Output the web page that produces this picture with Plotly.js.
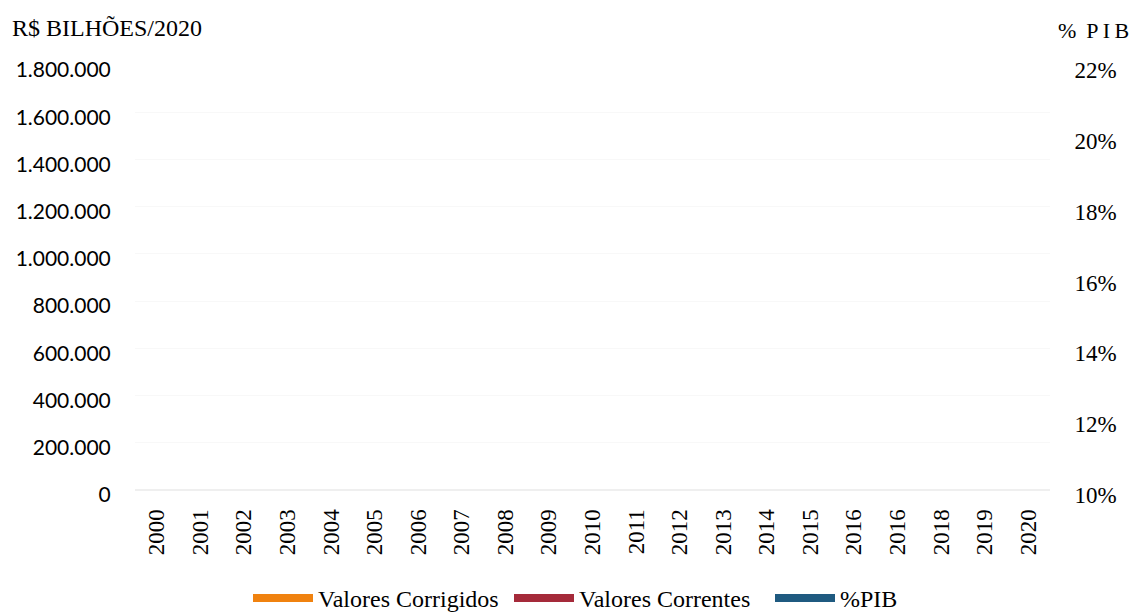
<!DOCTYPE html>
<html>
<head>
<meta charset="utf-8">
<script src="https://cdn.plot.ly/plotly-3.0.1.min.js"></script>
<style>
  html, body { margin: 0; padding: 0; background: #fff; }
  #chart { width: 1133px; height: 612px; }
</style>
</head>
<body>
<div id="chart"></div>
<script>
// Year labels as printed on the axis (the series has two "2016" entries)
const years = ["2000","2001","2002","2003","2004","2005","2006","2007","2008","2009",
               "2010","2011","2012","2013","2014","2015","2016","2016","2018","2019","2020"];

// Series values: no points are plotted for any year
const valoresCorrigidos = [null,null,null,null,null,null,null,null,null,null,
                           null,null,null,null,null,null,null,null,null,null,null];
const valoresCorrentes  = [null,null,null,null,null,null,null,null,null,null,
                           null,null,null,null,null,null,null,null,null,null,null];
const pctPIB            = [null,null,null,null,null,null,null,null,null,null,
                           null,null,null,null,null,null,null,null,null,null,null];

// Series names and colours
const seriesNames  = ["Valores Corrigidos", "Valores Correntes", "%PIB"];
const seriesColors = ["#F0820F", "#A52A3A", "#1F5A80"];

// Axis ticks
const leftTicks  = [0, 200000, 400000, 600000, 800000, 1000000, 1200000, 1400000, 1600000, 1800000];
const rightTicks = [0.10, 0.12, 0.14, 0.16, 0.18, 0.20, 0.22];

const idx = years.map((_, i) => i);
const serif = "Liberation Serif";

const traces = [
  { x: idx, y: valoresCorrigidos, name: seriesNames[0], type: "scatter", mode: "lines",
    line: { color: seriesColors[0], width: 8 }, yaxis: "y" },
  { x: idx, y: valoresCorrentes, name: seriesNames[1], type: "scatter", mode: "lines",
    line: { color: seriesColors[1], width: 8 }, yaxis: "y" },
  { x: idx, y: pctPIB, name: seriesNames[2], type: "scatter", mode: "lines",
    line: { color: seriesColors[2], width: 8 }, yaxis: "y2" }
];

const layout = {
  width: 1133, height: 612,
  paper_bgcolor: "#fff", plot_bgcolor: "#fff",
  font: { family: serif, size: 24, color: "#000" },
  margin: { l: 135, r: 83, t: 65, b: 122, autoexpand: false },
  separators: ",.",
  showlegend: true,
  legend: {
    orientation: "h", x: 0.1235, xanchor: "left", xref: "paper",
    yref: "container", y: 0.0589, yanchor: "top",
    font: { family: serif, size: 24, color: "#000" },
    itemwidth: 60, traceorder: "normal", tracegroupgap: 0,
    entrywidth: 186, entrywidthmode: "pixels",
    bgcolor: "rgba(0,0,0,0)"
  },
  xaxis: {
    range: [-0.5, years.length - 0.5],
    tickmode: "array", tickvals: idx, ticktext: years,
    tickangle: -90,
    tickfont: { family: serif, size: 23, color: "#000" },
    showgrid: false, zeroline: false, showline: false,
    ticks: "outside", ticklen: 9, tickcolor: "rgba(0,0,0,0)",
    automargin: false, fixedrange: true
  },
  yaxis: {
    range: [0, 1800000],
    tickmode: "array", tickvals: leftTicks,
    tickformat: ",d",
    tickfont: { family: "Lato", size: 21, color: "#000" },
    showgrid: true, gridcolor: "#f8f8f8", gridwidth: 1,
    zeroline: true, zerolinecolor: "#efefef", zerolinewidth: 2,
    showline: false,
    ticks: "outside", ticklen: 19, tickcolor: "rgba(0,0,0,0)",
    ticklabelshift: 5,
    automargin: false, fixedrange: true
  },
  yaxis2: {
    overlaying: "y", side: "right",
    range: [0.10, 0.22],
    tickmode: "array", tickvals: rightTicks,
    tickformat: ".0%",
    tickfont: { family: serif, size: 23, color: "#000" },
    showgrid: false, zeroline: false, showline: false,
    ticks: "outside", ticklen: 19, tickcolor: "rgba(0,0,0,0)",
    ticklabelshift: 5,
    automargin: false, fixedrange: true
  },
  annotations: [
    { text: "R$ BILHÕES/2020", xref: "paper", yref: "paper",
      x: 0, xanchor: "left", xshift: -125, y: 1.087, yanchor: "middle",
      showarrow: false,
      font: { family: serif, size: 24, color: "#000" } },
    { text: "% \u2009P\u2009I\u2009B", xref: "paper", yref: "paper",
      x: 1.0, xanchor: "left", xshift: 6, y: 1.082, yanchor: "middle",
      showarrow: false,
      font: { family: serif, size: 22, color: "#000" } }
  ]
};

Plotly.newPlot("chart", traces, layout, { displayModeBar: false, staticPlot: true });
</script>
</body>
</html>
